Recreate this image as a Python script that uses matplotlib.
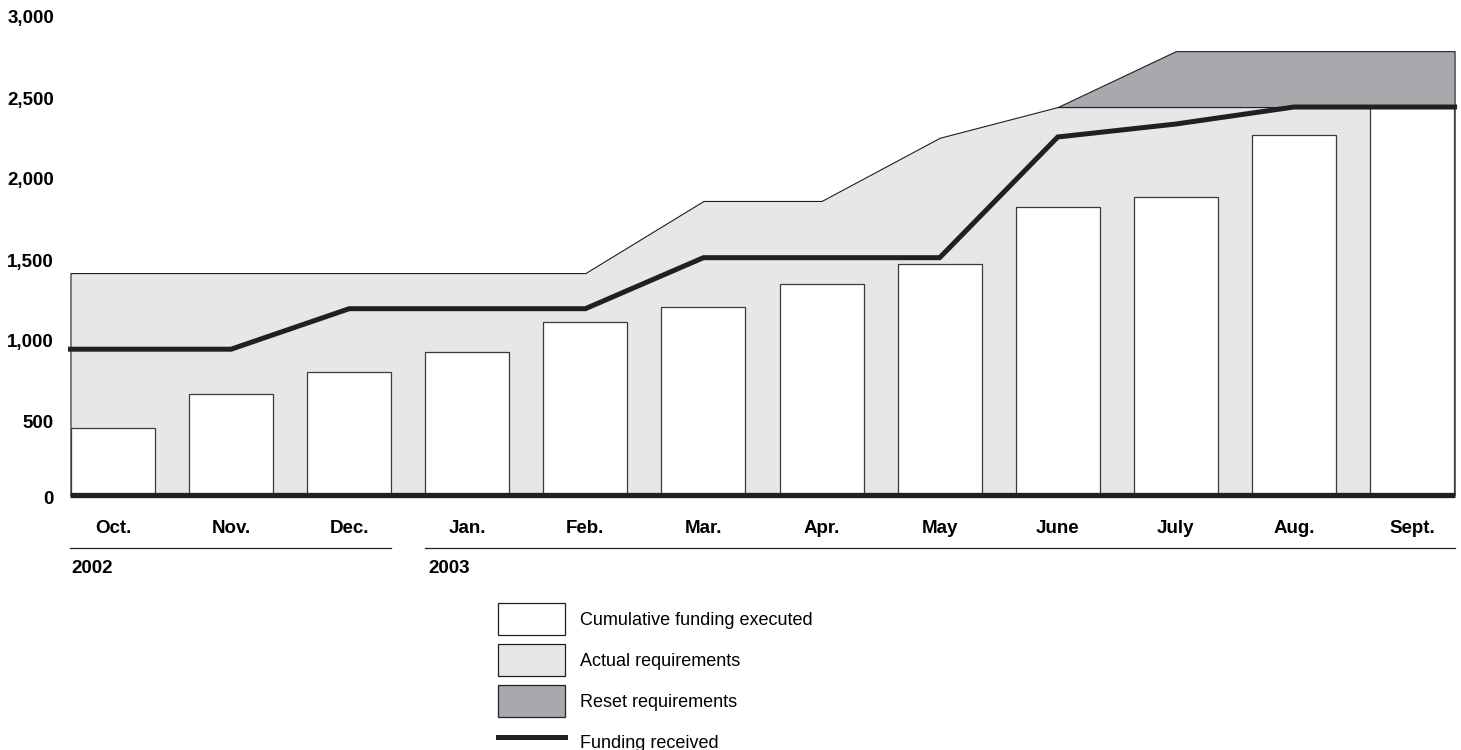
import matplotlib
matplotlib.use('Agg')
import matplotlib.pyplot as plt
import matplotlib.transforms as mtransforms
import numpy as np
from matplotlib.patches import Patch
from matplotlib.lines import Line2D

plt.rcParams['font.family'] = ['Liberation Sans', 'DejaVu Sans']

# ---------------- data ----------------
months = ['Oct.', 'Nov.', 'Dec.', 'Jan.', 'Feb.', 'Mar.', 'Apr.', 'May',
          'June', 'July', 'Aug.', 'Sept.']
executed = [415, 625, 760, 885, 1070, 1160, 1305, 1425, 1775, 1840, 2220, 2395]
funding = [900, 900, 1150, 1150, 1150, 1465, 1465, 1465, 2210, 2290, 2395, 2395]
actual_req = [1370, 1370, 1370, 1370, 1370, 1815, 1815, 2205, 2395, 2395, 2395, 2395]
reset_req = [np.nan] * 8 + [2395, 2740, 2740, 2740]
yticks = [0, 500, 1000, 1500, 2000, 2500, 3000]
ytick_labels = ['0', '500', '1,000', '1,500', '2,000', '2,500', '3,000']
years = ['2002', '2003']
legend_labels = ['Cumulative funding executed', 'Actual requirements',
                 'Reset requirements', 'Funding received']

# ---------------- style ----------------
DARK = '#231f20'
LIGHT = '#e6e7e8'
MID = '#a7a9ac'
W, H = 1461, 750

fig = plt.figure(figsize=(W / 100, H / 100), dpi=100)
x0px, x1px = 65.76, 1459.3
ybot, ytop = 495, 9
ax = fig.add_axes([x0px / W, 1 - ybot / H, (x1px - x0px) / W, (ybot - ytop) / H])
ax.set_xlim(-0.4, 11.4)
ax.set_ylim(0, 3000)
for s in ax.spines.values():
    s.set_visible(False)

x = np.arange(len(months))
edge = 0.36
x_ext = np.concatenate([[-edge], x, [x[-1] + edge]])
req_ext = np.concatenate([[actual_req[0]], actual_req, [actual_req[-1]]])
fund_ext = np.concatenate([[funding[0]], funding, [funding[-1]]])

# actual requirements area
ax.fill_between(x_ext, 0, req_ext, facecolor=LIGHT, edgecolor=DARK, lw=0.8, zorder=1)

# reset requirements area
reset_arr = np.array(reset_req, float)
mask = ~np.isnan(reset_arr)
xs = np.concatenate([x[mask], [x[-1] + edge]])
top = np.concatenate([reset_arr[mask], [reset_arr[-1]]])
bot = np.concatenate([np.array(actual_req, float)[mask], [actual_req[-1]]])
ax.fill_between(xs, bot, top, facecolor=MID, edgecolor=DARK, lw=0.8, zorder=1)

# bars
ax.bar(x, executed, width=0.711, color='white', edgecolor='#3a3a3a', lw=0.9, zorder=2)

# funding received
ax.plot(x_ext, fund_ext, color=DARK, lw=3.6, zorder=3, solid_joinstyle='miter')

# baseline
ax.plot(x_ext[[0, -1]], [0, 0], color=DARK, lw=3.8, zorder=4, clip_on=False,
        solid_capstyle='butt')

BOLD = 13.5
# y ticks
ax.set_yticks(yticks)
ax.set_yticklabels(ytick_labels, fontweight='bold', fontsize=BOLD)
ax.tick_params(axis='y', length=0, pad=8.5)
for val, lab in zip(yticks, ax.get_yticklabels()):
    dy = -3 if val == 0 else -8
    lab.set_transform(lab.get_transform() +
                      mtransforms.ScaledTranslation(0, dy / 100, fig.dpi_scale_trans))

# x ticks
ax.set_xticks(x)
ax.set_xticklabels(months, fontweight='bold', fontsize=BOLD)
ax.tick_params(axis='x', length=0, pad=18)

# year rulers
xt = ax.get_xaxis_transform()
yl = (ybot - 548) / (ybot - ytop)
ax.plot([-edge, 2 + 0.3555], [yl, yl], transform=xt, clip_on=False, color=DARK, lw=0.9)
ax.plot([3 - 0.3555, 11 + edge], [yl, yl], transform=xt, clip_on=False, color=DARK, lw=0.9)
yy = (ybot - 573) / (ybot - ytop)
ax.text(-0.35, yy, years[0], transform=xt, ha='left', va='baseline',
        fontweight='bold', fontsize=BOLD)
ax.text(3 - 0.33, yy, years[1], transform=xt, ha='left', va='baseline',
        fontweight='bold', fontsize=BOLD)

# legend
handles = [Patch(facecolor='white', edgecolor=DARK, lw=0.9),
           Patch(facecolor=LIGHT, edgecolor=DARK, lw=0.9),
           Patch(facecolor=MID, edgecolor=DARK, lw=0.9),
           Line2D([], [], color=DARK, lw=3.6)]
fig.legend(handles, legend_labels, loc='upper left',
           bbox_to_anchor=(498 / W, 1 - 603 / H), frameon=False, fontsize=13,
           handlelength=3.7, handleheight=2.36, labelspacing=0.5,
           handletextpad=0.83, borderpad=0, borderaxespad=0)

fig.savefig('out.png', dpi=100)
